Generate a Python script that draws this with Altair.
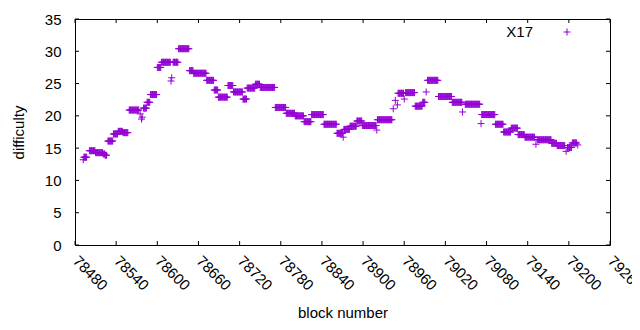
import altair as alt
import pandas as pd

# runs of constant difficulty: (first block, last block, difficulty)
run_start = [78492, 78493, 78501, 78510, 78521, 78524, 78528, 78536, 78543, 78550,
             78559, 78575, 78577, 78578, 78580, 78585, 78590, 78600, 78606, 78620,
             78621, 78623, 78631, 78647, 78653, 78672, 78683, 78689, 78703, 78711,
             78725, 78731, 78743, 78750, 78772, 78788, 78801, 78814, 78825, 78843,
             78862, 78871, 78872, 78881, 78891, 78899, 78920, 78921, 78944, 78947,
             78950, 78951, 78960, 78962, 78976, 78987, 78992, 78994, 79010, 79030,
             79045, 79049, 79072, 79073, 79093, 79105, 79116, 79126, 79136, 79152,
             79154, 79175, 79183, 79196, 79198, 79205, 79213]
run_end = [78492, 78497, 78509, 78520, 78523, 78526, 78535, 78542, 78549, 78557,
           78573, 78575, 78577, 78578, 78584, 78589, 78599, 78605, 78619, 78620,
           78621, 78630, 78646, 78652, 78671, 78682, 78688, 78702, 78710, 78724,
           78730, 78742, 78749, 78771, 78787, 78800, 78813, 78824, 78842, 78861,
           78870, 78871, 78880, 78890, 78898, 78919, 78920, 78942, 78944, 78947,
           78950, 78959, 78960, 78975, 78986, 78990, 78992, 79009, 79029, 79044,
           79045, 79070, 79072, 79092, 79104, 79115, 79125, 79135, 79150, 79152,
           79174, 79182, 79194, 79196, 79204, 79211, 79213]
run_difficulty = [13.2, 13.6, 14.6, 14.3, 14.1, 13.9, 16.1, 17.2, 17.6, 17.4,
                  20.9, 20.3, 19.5, 19.8, 21.2, 22.1, 23.3, 27.5, 28.3, 25.4,
                  25.9, 28.3, 30.4, 27.0, 26.6, 25.5, 24.0, 22.9, 24.7, 23.7,
                  22.6, 24.3, 24.9, 24.4, 21.3, 20.4, 20.0, 19.1, 20.2, 18.7,
                  17.3, 16.7, 17.9, 18.4, 19.2, 18.5, 17.8, 19.4, 21.1, 22.4,
                  21.7, 23.5, 22.6, 23.6, 21.5, 22.1, 23.7, 25.5, 23.0, 22.1,
                  20.6, 21.8, 18.8, 20.2, 18.7, 17.5, 18.1, 17.1, 16.7, 15.6,
                  16.3, 15.75, 15.4, 14.5, 15.1, 15.8, 15.5]

x_ticks = [78480, 78540, 78600, 78660, 78720, 78780, 78840, 78900, 78960,
           79020, 79080, 79140, 79200, 79260]
y_ticks = [0, 5, 10, 15, 20, 25, 30, 35]
series_name = "X17"

rows = []
for s, e, d in zip(run_start, run_end, run_difficulty):
    for b in range(s, e + 1):
        rows.append({"block": b, "difficulty": d, "series": series_name})
df = pd.DataFrame(rows)

W, H = 535, 226
FONT = "Liberation Sans"
PURPLE = "#9400D3"
PLUS = "M-1,0L1,0M0,-1L0,1"
TICK = 4

xs = alt.Scale(domain=[x_ticks[0], x_ticks[-1]], nice=False, zero=False)
ys = alt.Scale(domain=[y_ticks[0], y_ticks[-1]], nice=False, zero=False)

x_axis = alt.Axis(
    values=x_ticks, title="block number", labelAngle=45, labelAlign="left",
    labelBaseline="top", labelPadding=8, labelOffset=5, ticks=False, tickSize=0,
    domain=False, grid=False, titlePadding=12, labelFlush=False,
    labelOverlap=False, format="d")
y_axis = alt.Axis(
    values=y_ticks, title="difficulty", ticks=False, tickSize=0, domain=False,
    grid=False, labelPadding=14, titlePadding=18, labelOverlap=False,
    labelFlush=False, format="d")

points = alt.Chart(df).mark_point(
    shape=PLUS, size=49, filled=False, strokeWidth=1, color=PURPLE, opacity=1
).encode(
    x=alt.X("block:Q", scale=xs, axis=x_axis),
    y=alt.Y("difficulty:Q", scale=ys, axis=y_axis),
)

xt = pd.DataFrame({"t": x_ticks})
yt = pd.DataFrame({"t": y_ticks})

xb = alt.Chart(xt).mark_rule(color="black", strokeWidth=1).encode(
    x=alt.X("t:Q", scale=xs, axis=x_axis, title="block number"),
    y=alt.value(H), y2=alt.value(H - TICK))
xtop = alt.Chart(xt).mark_rule(color="black", strokeWidth=1).encode(
    x=alt.X("t:Q", scale=xs, axis=x_axis, title="block number"),
    y=alt.value(0), y2=alt.value(TICK))
yl = alt.Chart(yt).mark_rule(color="black", strokeWidth=1).encode(
    y=alt.Y("t:Q", scale=ys, axis=y_axis, title="difficulty"),
    x=alt.value(0), x2=alt.value(TICK))
yr = alt.Chart(yt).mark_rule(color="black", strokeWidth=1).encode(
    y=alt.Y("t:Q", scale=ys, axis=y_axis, title="difficulty"),
    x=alt.value(W), x2=alt.value(W - TICK))

leg = pd.DataFrame({"name": [series_name]})
leg_text = alt.Chart(leg).mark_text(
    align="right", baseline="middle", font=FONT, fontSize=15, color="black"
).encode(text="name:N", x=alt.value(458), y=alt.value(13))
leg_sym = alt.Chart(leg).mark_point(
    shape=PLUS, size=49, filled=False, strokeWidth=1, color=PURPLE, opacity=1
).encode(x=alt.value(492), y=alt.value(13))

chart = alt.layer(points, xb, xtop, yl, yr, leg_text, leg_sym).properties(
    width=W, height=H,
    autosize=alt.AutoSizeParams(type="none"),
    padding={"left": 67, "top": 11, "right": 22, "bottom": 76},
).configure_view(stroke="black", strokeWidth=1).configure_axis(
    labelFont=FONT, titleFont=FONT, labelFontSize=15, titleFontSize=15,
    labelColor="black", titleColor="black", titleFontWeight="normal"
)

chart.save("out.html", embed_options={"renderer": "svg", "actions": False})
